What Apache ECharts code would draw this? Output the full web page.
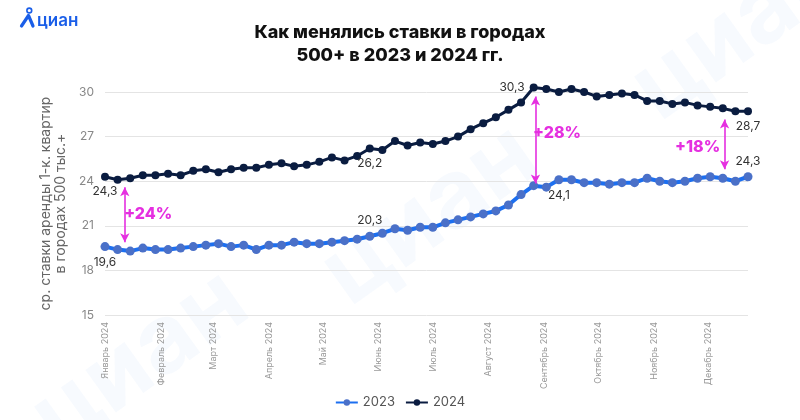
<!DOCTYPE html>
<html>
<head>
<meta charset="utf-8">
<script src="https://cdn.jsdelivr.net/npm/echarts@6/dist/echarts.min.js"></script>
<style>
html,body{margin:0;padding:0;background:#fff;}
#chart{width:800px;height:420px;}
</style>
</head>
<body>
<div id="chart"></div>
<script>
// Weekly periods (week start dates), 2024
const weeks = [
  '2024-01-01','2024-01-08','2024-01-15','2024-01-22','2024-01-29',
  '2024-02-05','2024-02-12','2024-02-19','2024-02-26',
  '2024-03-04','2024-03-11','2024-03-18','2024-03-25',
  '2024-04-01','2024-04-08','2024-04-15','2024-04-22','2024-04-29',
  '2024-05-06','2024-05-13','2024-05-20','2024-05-27',
  '2024-06-03','2024-06-10','2024-06-17','2024-06-24',
  '2024-07-01','2024-07-08','2024-07-15','2024-07-22','2024-07-29',
  '2024-08-05','2024-08-12','2024-08-19','2024-08-26',
  '2024-09-02','2024-09-09','2024-09-16','2024-09-23','2024-09-30',
  '2024-10-07','2024-10-14','2024-10-21','2024-10-28',
  '2024-11-04','2024-11-11','2024-11-18','2024-11-25',
  '2024-12-02','2024-12-09','2024-12-16','2024-12-23'
];

const values2023 = [
  19.6,19.4,19.3,19.5,19.4,19.4,19.5,19.6,19.7,19.8,19.6,19.7,19.4,
  19.7,19.7,19.9,19.8,19.8,19.9,20.0,20.1,20.3,20.5,20.8,20.7,20.9,
  20.9,21.2,21.4,21.6,21.8,22.0,22.4,23.1,23.7,23.6,24.1,24.1,23.9,
  23.9,23.8,23.9,23.9,24.2,24.0,23.9,24.0,24.2,24.3,24.2,24.0,24.3
];

const values2024 = [
  24.3,24.1,24.2,24.4,24.4,24.5,24.4,24.7,24.8,24.6,24.8,24.9,24.9,
  25.1,25.2,25.0,25.1,25.3,25.6,25.4,25.7,26.2,26.1,26.7,26.4,26.6,
  26.5,26.7,27.0,27.5,27.9,28.3,28.8,29.3,30.3,30.2,30.0,30.2,30.0,
  29.7,29.8,29.9,29.8,29.4,29.4,29.2,29.3,29.1,29.0,28.9,28.7,28.7
];

const monthNames = ['Январь','Февраль','Март','Апрель','Май','Июнь','Июль','Август','Сентябрь','Октябрь','Ноябрь','Декабрь'];
const seriesNames = ['2023','2024'];

const labelPos2023 = {0:'bottom', 21:'top', 36:'bottom', 51:'top'};
const labelPos2024 = {0:'bottom', 21:'bottom', 34:'left', 51:'bottom'};

const MAGENTA = '#e52fe0';
const FONT = 'Inter, "Noto Sans", sans-serif';
const fmt = v => String(v).replace('.', ',');

function buildData(vals, posMap) {
  return vals.map((v, i) => {
    const item = { value: [weeks[i], v] };
    if (posMap[i] !== undefined) {
      item.label = {
        show: true, position: posMap[i], distance: 5,
        formatter: fmt(v), color: '#333', fontSize: 12, fontFamily: FONT
      };
    }
    return item;
  });
}

const chart = echarts.init(document.getElementById('chart'), null, {renderer: 'canvas'});

const wm = (x, y) => ({
  type: 'text', x: x, y: y, rotation: 0.62, z: -10, silent: true,
  style: { text: 'циан', fontSize: 96, fontWeight: 'bold', fontFamily: FONT,
           fill: 'rgba(30,100,235,0.035)', align: 'center', verticalAlign: 'middle' }
});

const option = {
  backgroundColor: '#fff',
  animation: false,
  title: {
    text: 'Как менялись ставки в городах\n500+ в 2023 и 2024 гг.',
    left: 'center', top: 16,
    textStyle: { fontSize: 18, fontWeight: 800, color: '#111', lineHeight: 23, fontFamily: FONT }
  },
  graphic: [
    wm(430, 215), wm(140, 360), wm(740, 30),
    { type: 'circle', shape: { cx: 29.3, cy: 10.5, r: 2.4 }, z: 100,
      style: { fill: 'none', stroke: '#1a5ee8', lineWidth: 1.6 } },
    { type: 'polyline', shape: { points: [[21.5, 26], [28.5, 15.5], [33, 26]] }, z: 100,
      style: { fill: 'none', stroke: '#1a5ee8', lineWidth: 3.2, lineCap: 'round', lineJoin: 'round' } },
    { type: 'text', x: 37, y: 20.5, z: 100,
      style: { text: 'циан', fontSize: 17, fontWeight: 600, fill: '#1a5ee8',
               fontFamily: FONT, verticalAlign: 'middle' } }
  ],
  legend: {
    bottom: 6, left: 'center', itemWidth: 22, itemHeight: 8, itemGap: 10,
    textStyle: { color: '#555', fontSize: 13, fontFamily: FONT },
    data: seriesNames
  },
  grid: { left: 105, right: 52, top: 92, bottom: 105, containLabel: false },
  xAxis: {
    type: 'time',
    min: weeks[0], max: weeks[weeks.length - 1],
    splitNumber: 12,
    minInterval: 28 * 86400000,
    maxInterval: 31 * 86400000,
    axisLine: { show: false }, axisTick: { show: false }, splitLine: { show: false },
    axisLabel: {
      rotate: 90, fontSize: 9, color: '#999', margin: 7, hideOverlap: false,
      showMinLabel: true, showMaxLabel: false, fontFamily: FONT,
      formatter: function (value) {
        const d = new Date(value);
        return monthNames[d.getMonth()] + ' ' + d.getFullYear();
      }
    }
  },
  yAxis: {
    type: 'value', min: 15, max: 30, interval: 3,
    name: 'ср. ставки аренды 1-к. квартир\nв городах 500 тыс.+',
    nameLocation: 'middle', nameGap: 27, nameRotate: 90,
    nameTextStyle: { color: '#666', fontSize: 14, lineHeight: 15, fontFamily: FONT },
    axisLine: { show: false }, axisTick: { show: false },
    axisLabel: { color: '#888', fontSize: 12, margin: 11, fontFamily: FONT },
    splitLine: { lineStyle: { color: '#e4e4e4', width: 1 } }
  },
  series: [
    {
      name: seriesNames[0], type: 'line', clip: false,
      data: buildData(values2023, labelPos2023),
      symbol: 'circle', symbolSize: 9, showSymbol: true,
      lineStyle: { color: '#1c6ff0', width: 4 },
      itemStyle: { color: '#4a70c8' },
      z: 3,
      markLine: {
        silent: true, symbol: ['arrow', 'arrow'], symbolSize: [7, 9],
        lineStyle: { color: MAGENTA, width: 1.6, type: 'solid' },
        label: { show: false },
        data: [
          [{ coord: ['2024-01-12', 23.6] }, { coord: ['2024-01-12', 19.9] }],
          [{ coord: ['2024-08-27', 29.7] }, { coord: ['2024-08-27', 23.85] }],
          [{ coord: ['2024-12-10', 28.15] }, { coord: ['2024-12-10', 24.8] }]
        ]
      },
      markPoint: {
        silent: true, symbol: 'circle', symbolSize: 1,
        itemStyle: { color: 'rgba(0,0,0,0)' },
        label: { show: true, position: 'inside', formatter: p => p.name,
                 color: MAGENTA, fontSize: 16, fontWeight: 800, fontFamily: FONT },
        data: [
          { name: '+24%', coord: ['2024-01-25', 21.8] },
          { name: '+28%', coord: ['2024-09-08', 27.2] },
          { name: '+18%', coord: ['2024-11-25', 26.3] }
        ]
      }
    },
    {
      name: seriesNames[1], type: 'line', clip: false,
      data: buildData(values2024, labelPos2024),
      symbol: 'circle', symbolSize: 8, showSymbol: true,
      lineStyle: { color: '#0a1c40', width: 3 },
      itemStyle: { color: '#0a1c40' },
      z: 4
    }
  ]
};

chart.setOption(option);
</script>
</body>
</html>
